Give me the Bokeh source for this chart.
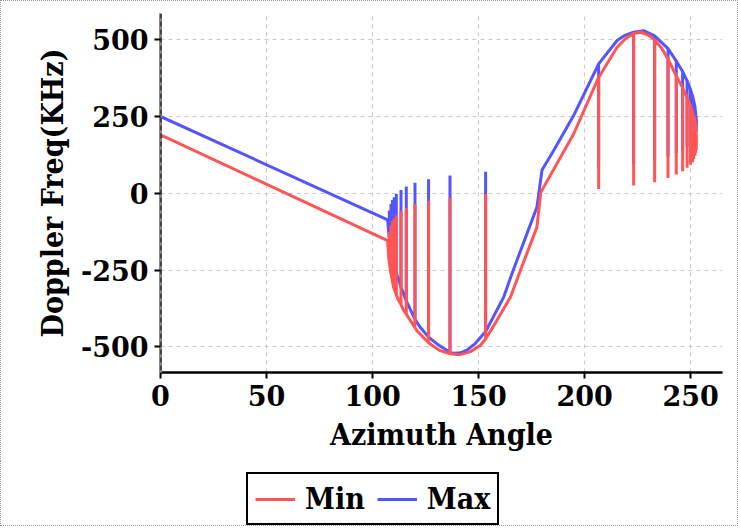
from bokeh.plotting import figure
from bokeh.layouts import column
from bokeh.models import (Legend, LegendItem, Span, Range1d, FixedTicker,
                          CustomJSTickFormatter)
from bokeh.embed import file_html
from bokeh.resources import INLINE

x_ticks = [0, 50, 100, 150, 200, 250]
y_ticks = [-500, -250, 0, 250, 500]
series_names = ["Min", "Max"]

min_x = [0, 0, 107.1, 107.6, 107.9, 107.9, 107.9, 108.4, 108.7, 108.7, 108.7, 109.4, 109.4, 109.4,
         109.9, 110.2, 110.2, 110.2, 111.2, 111.2, 111.2, 112.3, 113.4, 113.4, 113.4, 114.6, 115.9,
         115.9, 115.9, 117.8, 120.0, 120.0, 120.0, 120.9, 126.4, 126.4, 126.4, 127.2, 131.9, 136.5,
         136.5, 136.5, 141.4, 146.1, 150.8, 153.3, 153.3, 153.3, 158.5, 165.0, 169.7, 177.5, 179.3,
         194.8, 206.6, 206.6, 206.6, 215.3, 219.2, 223.1, 223.1, 223.1, 226.3, 229.8, 233.0, 233.0,
         233.0, 236.3, 239.3, 239.3, 239.3, 243.2, 243.2, 243.2, 246.2, 246.2, 246.2, 248.3, 248.3,
         248.3, 249.9, 249.9, 249.9, 250.9, 250.9, 250.9, 251.4, 251.4, 251.4, 252.0, 252.0, 252.0,
         252.3, 252.3, 252.3, 252.7, 252.6]
min_y = [-60, 190, -154, -208, -225, -126, -225, -251, -262, -105, -262, -288, -92, -288,
         -306, -312, -83, -312, -330, -72, -330, -349, -362, -58, -362, -381, -393,
         -48, -393, -414, -437, -35, -437, -447, -486, -24, -486, -490, -512, -522,
         -15, -522, -525, -515, -495, -474, -2, -474, -415, -338, -251, -110, 3,
         193, 377, 14, 377, 475, 503, 520, 25, 520, 524, 516, 499, 36,
         499, 472, 437, 50, 437, 382, 61, 382, 343, 72, 343, 312, 83,
         312, 285, 93, 285, 262, 101, 262, 252, 112, 252, 240, 122, 240,
         225, 132, 225, 182, 140]

max_x = [0, 0, 107.1, 107.9, 107.9, 107.9, 108.7, 108.7, 108.7, 109.4, 109.4, 109.4, 110.2, 110.2,
         110.2, 111.2, 111.2, 111.2, 112.3, 113.4, 113.4, 113.4, 115.9, 115.9, 115.9, 120.0, 120.0,
         120.0, 122.5, 126.4, 126.4, 126.4, 130.4, 136.5, 136.5, 136.5, 138.2, 141.5, 144.5, 148.5,
         152.4, 153.3, 153.3, 153.3, 161.8, 165.8, 177.5, 179.9, 185.4, 194.8, 206.6, 206.6, 206.6,
         215.3, 219.0, 223.1, 223.1, 223.1, 227.8, 233.0, 233.0, 233.0, 239.3, 239.3, 239.3, 243.2,
         243.2, 243.2, 246.2, 246.2, 246.2, 248.3, 248.3, 248.3, 249.9, 249.9, 249.9, 250.9, 250.9,
         250.9, 251.4, 251.4, 251.4, 252.0, 252.0, 252.0, 252.3, 252.3, 252.3, 252.7, 252.6]
max_y = [10, 250, -86.5, -150, -56, -150, -190, -35, -190, -215, -22, -215, -235, -13,
         -235, -258, -2, -258, -284, -305, 11, -305, -350, 22, -350, -410, 34,
         -410, -436, -468, 46, -468, -490, -518, 58, -518, -520, -519, -510, -488,
         -457, -450, 70, -450, -338, -260, -45, 76, 139, 253, 421, 84, 421,
         497, 514, 524, 95, 524, 529, 512, 106, 512, 471, 120, 471, 430,
         131, 430, 396, 142, 396, 366, 153, 366, 338, 163, 338, 316, 171,
         316, 302, 182, 302, 282, 192, 282, 262, 202, 262, 237, 200]

assert len(min_x) == len(min_y) and len(max_x) == len(max_y)

FONT = "DejaVu Serif Condensed"
TICK_FONT = "DejaVu Serif"
RED = "#ff5555"
BLUE = "#5555ff"
DOT = "1px dotted #999999"

p = figure(width=738, height=461, output_backend="svg", toolbar_location=None,
           x_range=Range1d(0, 265), y_range=Range1d(-583, 585),
           min_border_left=159, min_border_right=17, min_border_top=12, min_border_bottom=90)
p.outline_line_color = None
p.styles = {"border-top": DOT, "border-left": DOT, "border-right": DOT}

fmt = CustomJSTickFormatter(code="return tick.toString()")
p.xaxis.ticker = FixedTicker(ticks=x_ticks)
p.yaxis.ticker = FixedTicker(ticks=y_ticks)
p.xaxis.formatter = fmt
p.yaxis.formatter = fmt
p.xaxis.axis_label = "Azimuth Angle"
p.yaxis.axis_label = "Doppler Freq(KHz)"
for ax in (p.xaxis, p.yaxis):
    ax.major_label_text_font = TICK_FONT
    ax.major_label_text_font_style = "bold"
    ax.major_label_text_font_size = "27px"
    ax.major_label_text_color = "black"
    ax.axis_label_text_font = FONT
    ax.axis_label_text_font_style = "bold"
    ax.axis_label_text_font_size = "30px"
    ax.axis_label_text_color = "black"
    ax.major_tick_line_width = 2
    ax.major_tick_line_color = "black"
    ax.major_tick_out = 6
    ax.major_tick_in = 0
    ax.minor_tick_line_color = None
    ax.major_label_standoff = 6
    ax.axis_label_standoff = 8
p.xaxis.axis_line_color = "black"
p.xaxis.axis_line_width = 2.5
p.yaxis.axis_line_color = "#888888"
p.yaxis.axis_line_width = 3

for g in (p.xgrid, p.ygrid):
    g.grid_line_color = "#c8c8c8"
    g.grid_line_dash = "4 4"
    g.grid_line_width = 1

r_max = p.line(max_x, max_y, line_color=BLUE, line_width=3)
r_min = p.line(min_x, min_y, line_color=RED, line_width=3)

p.add_layout(Span(location=0, dimension="height", line_color="black", line_width=2, line_dash="5 3"))

# legend strip below the chart (its ranges are set far from the data, so only the legend shows)
lg = figure(width=738, height=65, output_backend="svg", toolbar_location=None,
            x_axis_type=None, y_axis_type=None,
            x_range=Range1d(5000, 5001), y_range=Range1d(5000, 5001),
            min_border_left=0, min_border_right=0, min_border_top=0, min_border_bottom=0)
lg.outline_line_color = None
lg.grid.visible = False
lg.styles = {"border-bottom": DOT, "border-left": DOT, "border-right": DOT}
l_min = lg.line(min_x, min_y, line_color=RED, line_width=3)
l_max = lg.line(max_x, max_y, line_color=BLUE, line_width=3)

legend = Legend(items=[LegendItem(label=series_names[0], renderers=[l_min]),
                       LegendItem(label=series_names[1], renderers=[l_max])],
                orientation="horizontal", location=(86, 1))
legend.label_text_font = FONT
legend.label_text_font_style = "bold"
legend.label_text_font_size = "30px"
legend.label_text_color = "black"
legend.border_line_color = "black"
legend.border_line_alpha = 1
legend.border_line_width = 2
legend.background_fill_color = "white"
legend.background_fill_alpha = 1
legend.glyph_width = 40
legend.glyph_height = 20
legend.label_standoff = 10
legend.spacing = 12
legend.padding = 7
legend.margin = 0
lg.add_layout(legend, "center")

layout = column(p, lg, spacing=0)

open("out.html", "w").write(file_html(layout, INLINE))
